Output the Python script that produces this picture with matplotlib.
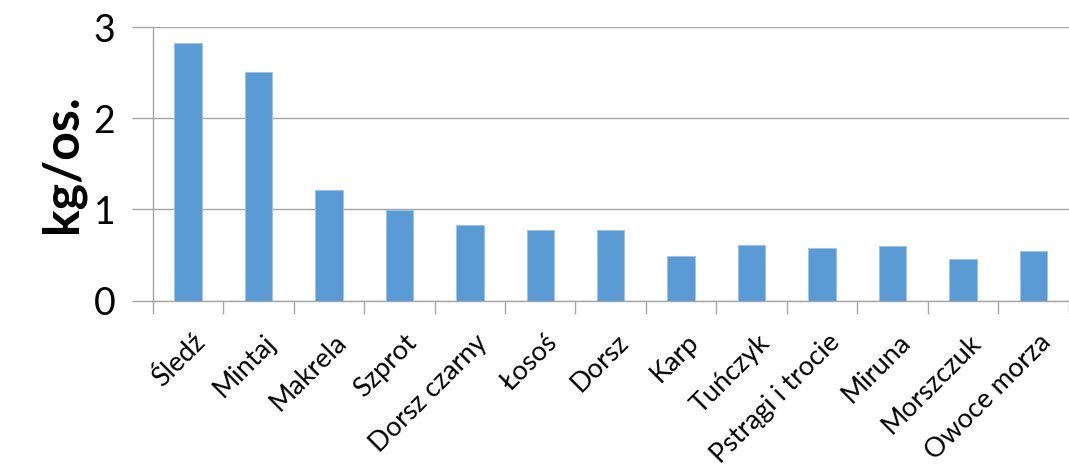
import numpy as np
import matplotlib
matplotlib.use('Agg')
import matplotlib.pyplot as plt
import matplotlib.transforms as mtransforms

plt.rcParams.update({'font.family': ['Lato', 'DejaVu Sans']})

categories = ['Śledź', 'Mintaj', 'Makrela', 'Szprot', 'Dorsz czarny', 'Łosoś', 'Dorsz',
              'Karp', 'Tuńczyk', 'Pstrągi i trocie', 'Miruna', 'Morszczuk', 'Owoce morza']
values = [2.83, 2.51, 1.21, 0.99, 0.83, 0.78, 0.77, 0.49, 0.61, 0.58, 0.60, 0.46, 0.55]
yticks = [0, 1, 2, 3]

GRID = '#a6a6a6'
BAR = '#5b9bd5'

fig = plt.figure(figsize=(10.69, 4.73), dpi=100)
ax = fig.add_axes([0.1428, 0.3643, 0.857, 0.5786])

x = np.arange(len(categories))
ax.bar(x, values, width=0.39, color=BAR, edgecolor='#9dc3e6', linewidth=0.6, zorder=3)

ax.set_xlim(-0.5, len(categories) - 0.5)
ax.set_ylim(0, 3)
ax.set_yticks(yticks)
ax.set_yticklabels([str(t) for t in yticks], fontsize=27)
ax.tick_params(axis='y', length=15, color=GRID, width=1, pad=12)
ax.grid(axis='y', color=GRID, linewidth=1, zorder=0)

ax.set_xticks(x)
ax.set_xticklabels(categories, rotation=45, ha='right', rotation_mode='anchor', fontsize=19.5)
ax.tick_params(axis='x', length=0, pad=21)
offset = mtransforms.ScaledTranslation(5 / 100, 0, fig.dpi_scale_trans)
for lbl in ax.get_xticklabels():
    lbl.set_transform(lbl.get_transform() + offset)
ax.set_xticks(np.arange(-0.5, len(categories)), minor=True)
ax.tick_params(axis='x', which='minor', length=9, color=GRID, width=1)

for s in ['top', 'right']:
    ax.spines[s].set_visible(False)
for s in ['left', 'bottom']:
    ax.spines[s].set_color(GRID)
    ax.spines[s].set_linewidth(1)

ax.set_ylabel('kg/os.', fontsize=36, fontweight='bold', labelpad=6)

fig.savefig('out.png', dpi=100)
